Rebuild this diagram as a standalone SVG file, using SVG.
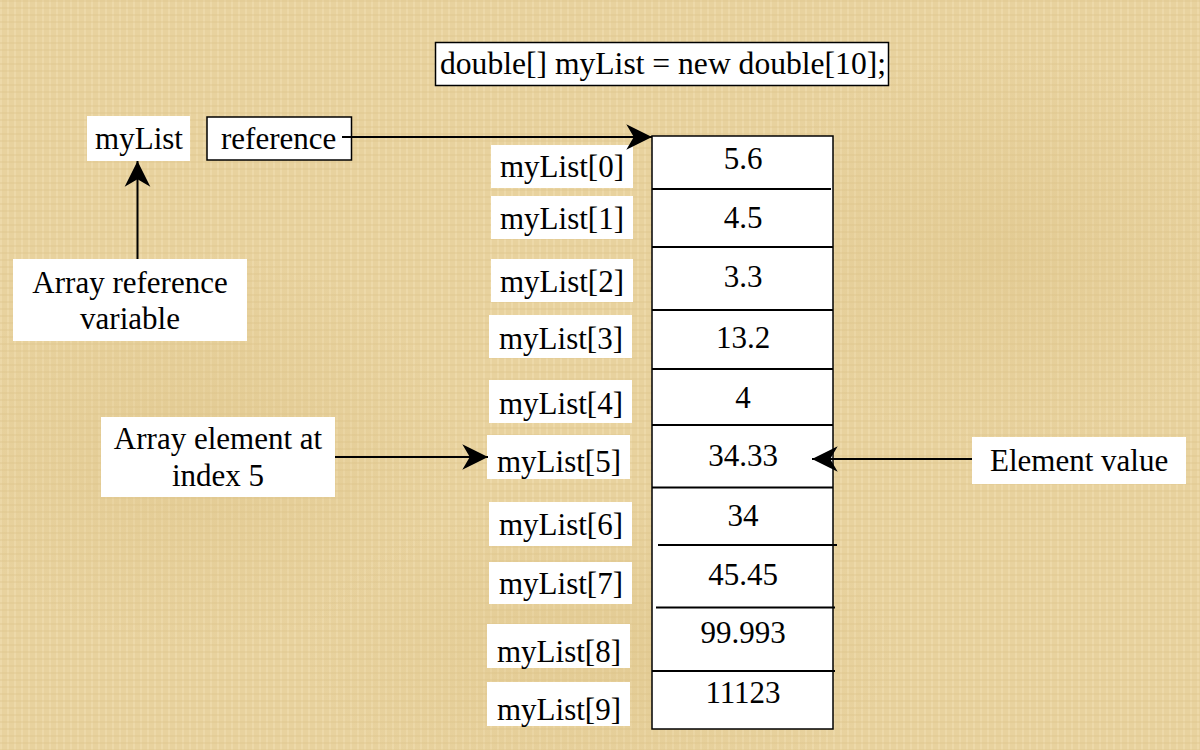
<svg xmlns="http://www.w3.org/2000/svg" width="1200" height="750" viewBox="0 0 1200 750">
  <defs>
    <pattern id="weave" width="7" height="7" patternUnits="userSpaceOnUse">
      <rect width="7" height="7" fill="#E8D29E"/>
      <rect x="0" y="0" width="2" height="7" fill="#F0DEB2" opacity="0.55"/>
      <rect x="0" y="0" width="7" height="2" fill="#DCC38A" opacity="0.35"/>
    </pattern>
    <radialGradient id="blotch" cx="0.5" cy="0.5" r="0.5">
      <stop offset="0" stop-color="#D9BE80" stop-opacity="0.35"/>
      <stop offset="1" stop-color="#D9BE80" stop-opacity="0"/>
    </radialGradient>
    <marker id="ah" markerUnits="userSpaceOnUse" markerWidth="30" markerHeight="30" viewBox="-26 -14 28 28" refX="0" refY="0" orient="auto">
      <path d="M0,0 L-24,-12 L-17,0 L-24,12 Z" fill="#000"/>
    </marker>
  </defs>
  <style>
    text { font-family: "Liberation Serif", "Times New Roman", serif; font-size: 31px; fill: #000; }
    .c { text-anchor: middle; }
    .lbl { fill: #fff; stroke: none; }
    .box { fill: #fff; stroke: #000; stroke-width: 1.5; }
    .sep { stroke: #000; stroke-width: 2.2; }
    .conn { stroke: #000; stroke-width: 2; fill: none; marker-end: url(#ah); }
  </style>

  <rect width="1200" height="750" fill="url(#weave)"/>
  <ellipse cx="200" cy="450" rx="260" ry="200" fill="url(#blotch)"/>
  <ellipse cx="1000" cy="250" rx="260" ry="200" fill="url(#blotch)"/>
  <ellipse cx="600" cy="650" rx="300" ry="150" fill="url(#blotch)"/>

  <g id="declaration">
    <rect class="box" x="435.5" y="42.5" width="453" height="43"/>
    <text x="440" y="74" style="font-size:31.6px">double[] myList = new double[10];</text>
  </g>

  <g id="myList-var">
    <rect class="lbl" x="87" y="116" width="103" height="45"/>
    <text class="c" x="139" y="149">myList</text>
  </g>

  <g id="reference">
    <rect class="box" x="207" y="117" width="144.5" height="43"/>
    <text x="221" y="149">reference</text>
  </g>

  <g id="array-ref-label">
    <rect class="lbl" x="13" y="259" width="234" height="82"/>
    <text class="c" x="130" y="293">Array reference</text>
    <text class="c" x="130" y="329">variable</text>
  </g>

  <g id="element-at-label">
    <rect class="lbl" x="101" y="417" width="234" height="80"/>
    <text class="c" x="218" y="449">Array element at</text>
    <text class="c" x="218" y="486">index 5</text>
  </g>

  <g id="element-value-label">
    <rect class="lbl" x="972" y="437" width="214" height="47"/>
    <text x="990" y="471">Element value</text>
  </g>

  <g id="array">
    <rect class="box" x="652" y="136" width="181" height="593"/>
    <line class="sep" x1="652" y1="189" x2="831" y2="189"/>
    <line class="sep" x1="652" y1="247" x2="833" y2="247"/>
    <line class="sep" x1="652" y1="310" x2="833" y2="310"/>
    <line class="sep" x1="652" y1="369" x2="833" y2="369"/>
    <line class="sep" x1="652" y1="425" x2="833" y2="425"/>
    <line class="sep" x1="652" y1="487.5" x2="833" y2="487.5"/>
    <line class="sep" x1="658" y1="545" x2="837" y2="545"/>
    <line class="sep" x1="656" y1="607.5" x2="835" y2="607.5"/>
    <line class="sep" x1="652" y1="671" x2="835" y2="671"/>
    <text class="c" x="743" y="169">5.6</text>
    <text class="c" x="743" y="228">4.5</text>
    <text class="c" x="743" y="287">3.3</text>
    <text class="c" x="743" y="348">13.2</text>
    <text class="c" x="743" y="408">4</text>
    <text class="c" x="743" y="466">34.33</text>
    <text class="c" x="743" y="526">34</text>
    <text class="c" x="743" y="585">45.45</text>
    <text class="c" x="743" y="643">99.993</text>
    <text class="c" x="743" y="703">11123</text>
  </g>

  <g id="idx0"><rect class="lbl" x="491" y="145" width="142" height="43"/><text class="c" x="562" y="177">myList[0]</text></g>
  <g id="idx1"><rect class="lbl" x="491" y="196" width="142" height="43"/><text class="c" x="562" y="229">myList[1]</text></g>
  <g id="idx2"><rect class="lbl" x="491" y="259" width="142" height="43"/><text class="c" x="562" y="292">myList[2]</text></g>
  <g id="idx3"><rect class="lbl" x="489" y="315" width="143" height="43"/><text class="c" x="561" y="349">myList[3]</text></g>
  <g id="idx4"><rect class="lbl" x="489" y="380" width="143" height="43"/><text class="c" x="561" y="414">myList[4]</text></g>
  <g id="idx5"><rect class="lbl" x="487" y="435" width="143" height="44"/><text class="c" x="559" y="472">myList[5]</text></g>
  <g id="idx6"><rect class="lbl" x="489" y="502" width="143" height="44"/><text class="c" x="561" y="535">myList[6]</text></g>
  <g id="idx7"><rect class="lbl" x="489" y="562" width="143" height="42"/><text class="c" x="561" y="594">myList[7]</text></g>
  <g id="idx8"><rect class="lbl" x="487" y="624" width="143" height="44"/><text class="c" x="559" y="662">myList[8]</text></g>
  <g id="idx9"><rect class="lbl" x="487" y="682" width="143" height="44"/><text class="c" x="559" y="720">myList[9]</text></g>

  <g id="connectors">
    <line class="conn" x1="137.5" y1="259" x2="137.5" y2="161"/>
    <line class="conn" x1="342" y1="137" x2="652" y2="137"/>
    <line class="conn" x1="335" y1="457" x2="488" y2="457"/>
    <line class="conn" x1="972" y1="459" x2="812" y2="459"/>
  </g>
</svg>
